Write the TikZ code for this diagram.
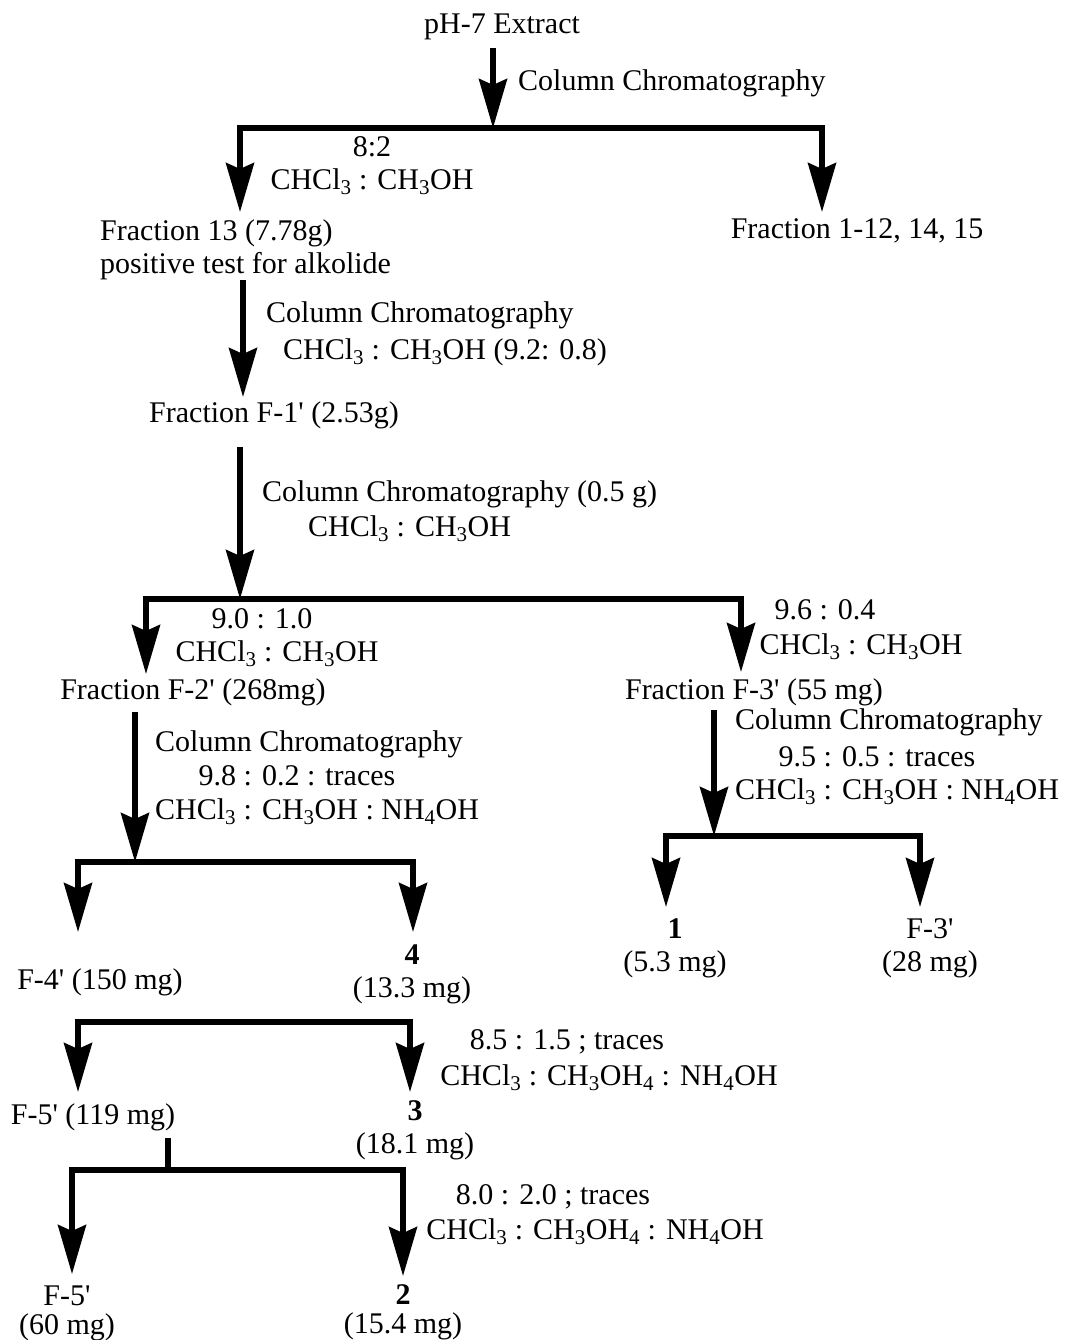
\documentclass[tikz,border=0pt]{standalone}
\usepackage{fontspec}
\setmainfont{Liberation Serif}
\usepackage{tikz}
\usetikzlibrary{arrows.meta,positioning,calc}

\newcommand{\chcl}{CHCl\textsubscript{3}}
\newcommand{\meoh}{CH\textsubscript{3}OH}
\newcommand{\nhoh}{NH\textsubscript{4}OH}
\newcommand{\pq}{\textquotesingle}

\begin{document}
\begin{tikzpicture}[x=1pt, y=-1pt,
    every node/.style={inner sep=0pt, align=center, font=\fontsize{30}{33}\selectfont},
    flow/.style={line width=5.5pt, -{Stealth[length=49pt, width=28pt, inset=6pt]}},
    fork/.style={line width=5.5pt, {Stealth[length=49pt, width=28pt, inset=6pt]}-{Stealth[length=49pt, width=28pt, inset=6pt]}},
    stem/.style={line width=5.5pt},
    tight/.style={font=\fontsize{30}{29}\selectfont}]
    \useasboundingbox (0,0) rectangle (1065,1340);

    % pH-7 extract
    \node (ext) at (502,27) {pH-7 Extract};
    \coordinate (j1) at (493,128);
    \coordinate (t13) at (240,212);
    \coordinate (t115) at (822,212);
    \draw[flow, shorten <=8pt] (ext.south -| j1) -- (j1);
    \node[anchor=west] (cc1) at (518,83) {Column Chromatography};
    \draw[flow] (j1) -| (t13);
    \draw[flow] (j1) -| (t115);
    \node (r1a) at (372,147) {8:2};
    \node (r1b) at (372,182) {\chcl\ : \meoh};
    \node[anchor=west, align=left] (fr13) at (100,250) {Fraction 13 (7.78g)\\positive test for alkolide};
    \node (fr1) at (857,231) {Fraction 1-12, 14, 15};

    % Fraction 13
    \coordinate (tF1) at (243,397);
    \draw[flow] (fr13.south -| tF1) -- (tF1);
    \node[anchor=west] (cc2) at (266,315) {Column Chromatography};
    \node[anchor=west] (sv2) at (283,352) {\chcl\ : \meoh\ (9.2: 0.8)};
    \node (frF1) at (274,415) {Fraction F-1\pq\ (2.53g)};

    % Fraction F-1'
    \coordinate (j2) at (240,599);
    \coordinate (tF2) at (146,674);
    \coordinate (tF3) at (741,672);
    \draw[flow, shorten <=18pt] (frF1.south -| j2) -- (j2);
    \node[anchor=west] (cc3) at (262,494) {Column Chromatography (0.5 g)};
    \node[anchor=west] (sv3) at (308,529) {\chcl\ : \meoh};
    \draw[flow] (j2) -| (tF2);
    \draw[flow] (j2) -| (tF3);
    \node (r2a) at (262,619) {9.0 : 1.0};
    \node (r2b) at (277,654) {\chcl\ : \meoh};
    \node (r3a) at (825,610) {9.6 : 0.4};
    \node (r3b) at (861,647) {\chcl\ : \meoh};
    \node (frF2) at (193,692) {Fraction F-2\pq\ (268mg)};
    \node (frF3) at (754,692) {Fraction F-3\pq\ (55 mg)};

    % Fraction F-2'
    \coordinate (j3) at (135,862);
    \coordinate (tF4) at (78,932);
    \coordinate (tc4) at (413,932);
    \draw[flow, shorten <=6pt] (frF2.south -| j3) -- (j3);
    \node[anchor=west] (cc4) at (155,744) {Column Chromatography};
    \node (sv4a) at (297,776) {9.8 : 0.2 : traces};
    \node[anchor=west] (sv4b) at (155,812) {\chcl\ : \meoh\ : \nhoh};
    \draw[flow] (j3) -| (tF4);
    \draw[flow] (j3) -| (tc4);
    \node (frF4) at (100,982) {F-4\pq\ (150 mg)};
    \node (c4) at (412,974) {\textbf{4}\\(13.3 mg)};

    % Fraction F-3'
    \coordinate (j4) at (714,836);
    \coordinate (tc1) at (666,907);
    \coordinate (tF3b) at (920,907);
    \draw[flow, shorten <=4pt] (frF3.south -| j4) -- (j4);
    \node[anchor=west] (cc5) at (735,722) {Column Chromatography};
    \node (sv5a) at (877,757) {9.5 : 0.5 : traces};
    \node[anchor=west] (sv5b) at (735,792) {\chcl\ : \meoh\ : \nhoh};
    \draw[flow] (j4) -| (tc1);
    \draw[flow] (j4) -| (tF3b);
    \node (c1) at (675,948) {\textbf{1}\\(5.3 mg)};
    \node (frF3b) at (930,948) {F-3\pq\\(28 mg)};

    % F-4'
    \coordinate (b5) at (244,1022);
    \coordinate (tF5) at (78,1092);
    \coordinate (tc3) at (410,1092);
    \draw[fork] (tF5) |- (b5) -| (tc3);
    \node (r5a) at (567,1042) {8.5 : 1.5 ; traces};
    \node (r5b) at (609,1078) {\chcl\ : CH\textsubscript{3}OH\textsubscript{4} : \nhoh};
    \node (frF5) at (93,1117) {F-5\pq\ (119 mg)};
    \node (c3) at (415,1130) {\textbf{3}\\(18.1 mg)};

    % F-5'
    \coordinate (j6) at (168,1170);
    \coordinate (tF5b) at (72,1274);
    \coordinate (tc2) at (403,1276);
    \draw[stem, shorten <=7pt] (frF5.south -| j6) -- (j6);
    \draw[flow] (j6) -| (tF5b);
    \draw[flow] (j6) -| (tc2);
    \node (r6a) at (553,1197) {8.0 : 2.0 ; traces};
    \node (r6b) at (595,1232) {\chcl\ : CH\textsubscript{3}OH\textsubscript{4} : \nhoh};
    \node[tight] (frF5b) at (67,1313) {F-5\pq\\(60 mg)};
    \node[tight] (c2) at (403,1312) {\textbf{2}\\(15.4 mg)};
\end{tikzpicture}
\end{document}
